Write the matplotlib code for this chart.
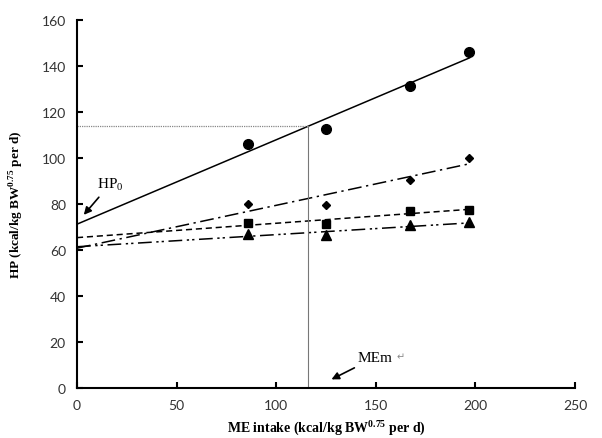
import numpy as np
import matplotlib
matplotlib.use("Agg")
import matplotlib.pyplot as plt

plt.rcParams['mathtext.fontset'] = 'custom'
plt.rcParams['mathtext.rm'] = 'Liberation Serif'
plt.rcParams['mathtext.bf'] = 'Liberation Serif:bold'

# Data (ME intake vs HP)
me_intake = [86, 125, 167, 197]
hp_circle = [106, 112.5, 131, 146]
hp_diamond = [80, 79.6, 90.4, 100]
hp_square = [71.6, 71.3, 76.8, 77.5]
hp_triangle = [66.7, 66.5, 70.6, 71.9]
me_m = 116  # maintenance ME intake

x_ticks = [0, 50, 100, 150, 200, 250]
y_ticks = [0, 20, 40, 60, 80, 100, 120, 140, 160]

fig = plt.figure(figsize=(6.02, 4.39), dpi=100)
ax = fig.add_axes([77/602, 1-389/439, (575-77)/602, (389-20.7)/439])

series = [
    (hp_circle, 'o', 7, '-'),
    (hp_diamond, 'D', 4.5, (0, (9, 3, 1.5, 3))),
    (hp_square, 's', 6, (0, (4, 2.5))),
    (hp_triangle, '^', 6.5, (0, (9, 3, 1.5, 2, 1.5, 3))),
]
xs = np.array(me_intake, dtype=float)
xl = np.array([0, xs.max()])
fits = []
for ys, mk, ms, ls in series:
    ax.plot(xs, ys, linestyle='none', marker=mk, color='black', markersize=ms)
    b, a = np.polyfit(xs, ys, 1)
    fits.append((b, a))
    ax.plot(xl, a + b * xl, color='black', linestyle=ls, linewidth=1.1)

b0, a0 = fits[0]
hp_m = a0 + b0 * me_m
ax.plot([0, me_m], [hp_m, hp_m], color='#888888', linestyle=(0, (1, 0.8)), linewidth=0.9)
ax.plot([me_m, me_m], [0, hp_m], color='#777777', linestyle='-', linewidth=0.8)

ax.annotate('HP$_{0}$', xy=(2.5, 74.3), xytext=(10, 85), fontsize=11,
            family='Liberation Serif', ha='left', va='bottom',
            arrowprops=dict(arrowstyle='-|>', color='black', lw=1.2, mutation_scale=11))
ax.annotate('MEm', xy=(126.5, 3.2), xytext=(141, 10.5), fontsize=11,
            family='Liberation Serif', ha='left', va='bottom',
            arrowprops=dict(arrowstyle='-|>', color='black', lw=1.2, mutation_scale=11))
ax.text(160.5, 11.5, '\u21b5', fontsize=7, color='#888888', family='DejaVu Sans', va='bottom')

ax.set_xlim(0, 250)
ax.set_ylim(0, 160)
ax.set_xticks(x_ticks)
ax.set_yticks(y_ticks)
for s in ['top', 'right']:
    ax.spines[s].set_visible(False)
for s in ['left', 'bottom']:
    ax.spines[s].set_linewidth(1.5)
ax.tick_params(direction='in', length=4, width=1.5, labelsize=10, colors='black',
               labelcolor='#333333', pad=8)
for lab in ax.get_xticklabels() + ax.get_yticklabels():
    lab.set_family('Lato')

ax.set_xlabel(r'ME intake (kcal/kg BW$^{\mathbf{0.75}}$ per d)', family='Liberation Serif',
              fontweight='bold', fontsize=10, labelpad=4)
ax.set_ylabel(r'HP (kcal/kg BW$^{\mathbf{0.75}}$ per d)', family='Liberation Serif',
              fontweight='bold', fontsize=9.5, labelpad=11)

fig.savefig('out.png', dpi=100)
